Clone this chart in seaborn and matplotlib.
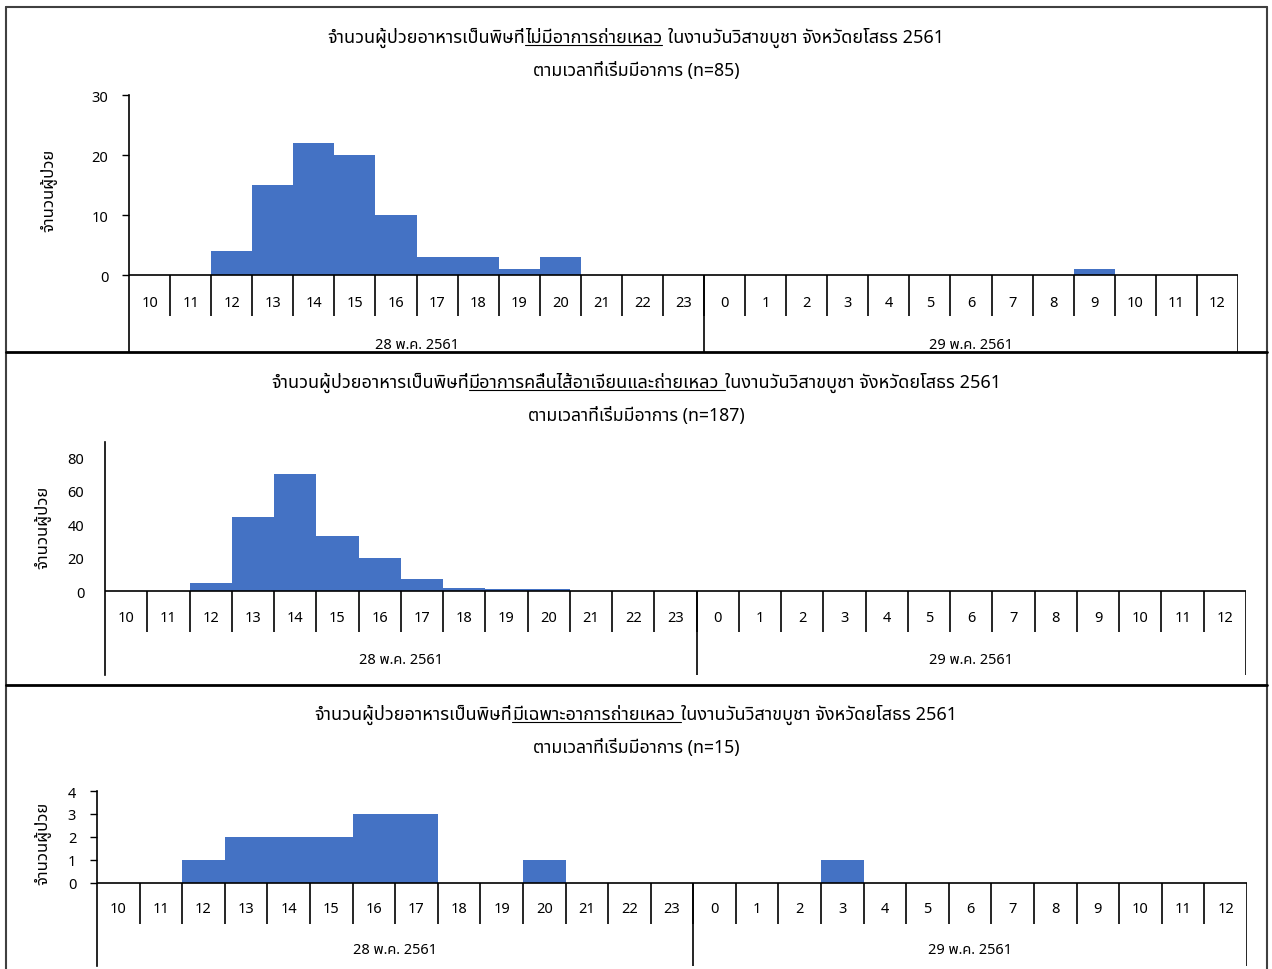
import matplotlib
matplotlib.use("Agg")
import matplotlib.pyplot as plt
from matplotlib.lines import Line2D
import seaborn as sns

# hour of onset, 28 May 10:00 -> 29 May 12:00
hours = ["10", "11", "12", "13", "14", "15", "16", "17", "18", "19", "20", "21", "22", "23",
         "0", "1", "2", "3", "4", "5", "6", "7", "8", "9", "10", "11", "12"]
days = ["28 พ.ค. 2561", "29 พ.ค. 2561"]

no_diarrhea = [0, 0, 4, 15, 22, 20, 10, 3, 3, 1, 3, 0, 0, 0,
               0, 0, 0, 0, 0, 0, 0, 0, 0, 1, 0, 0, 0]
nausea_diarrhea = [0, 0, 5, 44, 70, 33, 20, 7, 2, 1, 1, 0, 0, 0,
                   0, 0, 0, 0, 0, 0, 0, 0, 0, 0, 0, 0, 0]
diarrhea_only = [0, 0, 1, 2, 2, 2, 3, 3, 0, 0, 1, 0, 0, 0,
                 0, 0, 0, 1, 0, 0, 0, 0, 0, 0, 0, 0, 0]

titles = [
    ("จำนวนผู้ป่วยอาหารเป็นพิษที่", "ไม่มีอาการถ่ายเหลว", "ในงานวันวิสาขบูชา จังหวัดยโสธร 2561", False),
    ("จำนวนผู้ป่วยอาหารเป็นพิษที่", "มีอาการคลื่นไส้อาเจียนและถ่ายเหลว", "ในงานวันวิสาขบูชา จังหวัดยโสธร 2561", True),
    ("จำนวนผู้ป่วยอาหารเป็นพิษที่", "มีเฉพาะอาการถ่ายเหลว", "ในงานวันวิสาขบูชา จังหวัดยโสธร 2561", True),
]
subtitles = ["ตามเวลาที่เริ่มมีอาการ (n=85)", "ตามเวลาที่เริ่มมีอาการ (n=187)", "ตามเวลาที่เริ่มมีอาการ (n=15)"]
ylabel = "จำนวนผู้ป่วย"

sns.set_style("white")
plt.rcParams['font.family'] = ['Noto Sans Thai', 'DejaVu Sans']

W, H = 1272, 970
BLUE = "#4472C4"

fig = plt.figure(figsize=(W / 100, H / 100), dpi=100)


def fx(px):
    return px / W


def fy(py):
    return 1 - py / H


# layout of each panel in pixels
panels = [
    dict(data=no_diarrhea, box=(129, 96, 1238, 353), ylim=(-12.8, 30), yticks=[0, 10, 20, 30],
         tick=5, pad=10, sep=-6.8, lab=-4.5, day=-11.5, ty=38, sy=71, yl=(48, 190)),
    dict(data=nausea_diarrhea, box=(105, 443, 1246, 676), ylim=(-50.1, 89), yticks=[0, 20, 40, 60, 80],
         tick=0, pad=15, sep=-24.5, lab=-15.5, day=-40.6, ty=383, sy=416, yl=(42, 527)),
    dict(data=diarrhea_only, box=(97, 792, 1247, 967), ylim=(-3.61, 4), yticks=[0, 1, 2, 3, 4],
         tick=5, pad=10, sep=-1.78, lab=-1.09, day=-2.91, ty=715, sy=748, yl=(42, 843)),
]

for n, p in enumerate(panels):
    l, t, r, b = p['box']
    ax = fig.add_axes([fx(l), fy(b), fx(r - l), (b - t) / H])
    sns.barplot(x=list(range(len(hours))), y=p['data'], color=BLUE, saturation=1,
                width=1, linewidth=0, ax=ax)
    ax.set_xlim(-0.5, len(hours) - 0.5)
    ax.set_ylim(*p['ylim'])
    ax.set_yticks(p['yticks'])
    ax.set_xticks([])
    ax.tick_params(axis='y', length=p['tick'], width=1, pad=p['pad'], labelsize=10.5,
                   left=True, color='black', labelcolor='black')
    for s in ['top', 'right', 'bottom']:
        ax.spines[s].set_visible(False)
    ax.spines['left'].set_color('black')
    ax.spines['left'].set_linewidth(1.2)
    ax.set_facecolor('none')

    # table-like category axis
    ax.axhline(0, color='black', lw=1.2)
    ax.vlines([i + 0.5 for i in range(len(hours) - 1)], p['sep'], 0, color='black', lw=1.2)
    ax.vlines([13.5, len(hours) - 0.5], p['ylim'][0], 0, color='black', lw=1.2)
    for i, h in enumerate(hours):
        ax.text(i, p['lab'], h, ha='center', va='center', size=10.5, color='black')
    ax.text(6.5, p['day'], days[0], ha='center', va='center', size=10.5, color='black')
    ax.text(20, p['day'], days[1], ha='center', va='center', size=10.5, color='black')

    fig.text(fx(p['yl'][0]), fy(p['yl'][1]), ylabel, rotation=90, ha='center', va='center',
             size=12, color='black')
    fig.text(0.5, fy(p['sy']), subtitles[n], ha='center', va='center', size=12.7, color='black')

# titles with underlined part
renderer = fig.canvas.get_renderer()
space = 6
for p, (pre, mid, post, ul_space) in zip(panels, titles):
    parts = [fig.text(0, fy(p['ty'] + 5), s, va='baseline', ha='left', size=13, color='black')
             for s in (pre, mid, post)]
    widths = [t.get_window_extent(renderer).width for t in parts]
    total = sum(widths) + space
    x = (W - total) / 2
    starts = []
    for i, (t, w) in enumerate(zip(parts, widths)):
        t.set_x(fx(x))
        starts.append(x)
        x += w + (space if i == 1 else 0)
    x0 = starts[1]
    x1 = starts[1] + widths[1] + (space if ul_space else 0)
    fig.add_artist(Line2D([fx(x0), fx(x1)], [fy(p['ty'] + 8), fy(p['ty'] + 8)],
                          transform=fig.transFigure, color='black', lw=0.8))

# panel frames
frame = dict(transform=fig.transFigure, color='#404040', lw=1.5)
fig.add_artist(Line2D([fx(6), fx(1267)], [fy(8), fy(8)], **frame))
fig.add_artist(Line2D([fx(6), fx(6)], [fy(8), fy(970)], **frame))
fig.add_artist(Line2D([fx(1267), fx(1267)], [fy(8), fy(970)], **frame))
for y in (353, 686):
    fig.add_artist(Line2D([fx(6), fx(1267)], [fy(y), fy(y)], transform=fig.transFigure,
                          color='black', lw=2))

fig.savefig("out.png", dpi=100)
